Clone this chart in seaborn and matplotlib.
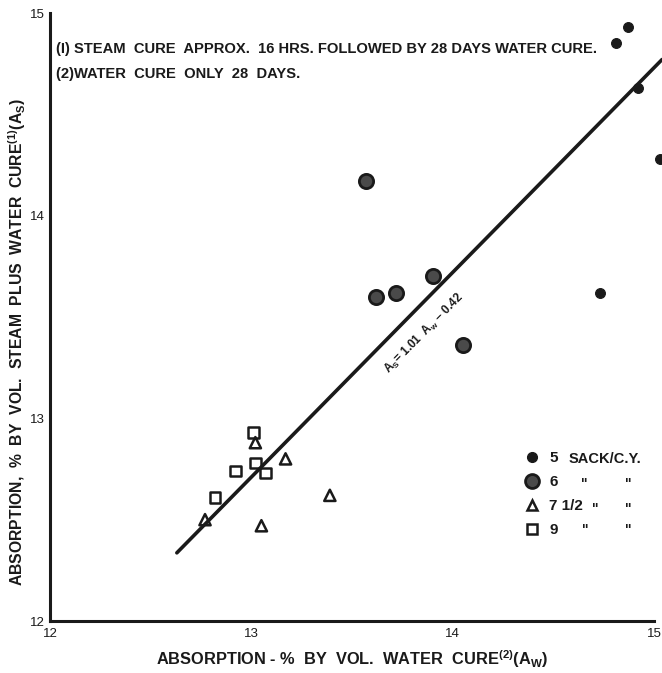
import matplotlib
matplotlib.use("Agg")
import matplotlib.pyplot as plt
import seaborn as sns
import numpy as np
import pandas as pd
from matplotlib.lines import Line2D

# ---- data ----
sack5_x = [14.87, 14.81, 14.92, 15.03, 14.73]
sack5_y = [14.93, 14.85, 14.63, 14.28, 13.62]
sack6_x = [13.57, 13.62, 13.72, 13.90, 14.05]
sack6_y = [14.17, 13.60, 13.62, 13.70, 13.36]
sack75_x = [12.77, 13.02, 13.05, 13.17, 13.39]
sack75_y = [12.50, 12.88, 12.47, 12.80, 12.62]
sack9_x = [12.82, 12.92, 13.01, 13.02, 13.07]
sack9_y = [12.61, 12.74, 12.93, 12.78, 12.73]
fit_slope = 1.01
fit_intercept = -0.42
fit_x = [12.63, 15.04]
legend_labels = ["5", "6", "7 1/2", "9"]
ticks = [12, 13, 14, 15]
note1 = "(I) STEAM  CURE  APPROX.  16 HRS. FOLLOWED BY 28 DAYS WATER CURE."
note2 = "(2)WATER  CURE  ONLY  28  DAYS."

sns.set_style("white")
FONT = ["Liberation Sans", "DejaVu Sans"]
plt.rcParams["font.family"] = FONT
plt.rcParams["mathtext.fontset"] = "custom"
plt.rcParams["mathtext.rm"] = "Liberation Sans:bold"
plt.rcParams["mathtext.it"] = "Liberation Sans:bold"
plt.rcParams["mathtext.bf"] = "Liberation Sans:bold"

fig = plt.figure(figsize=(6.62, 6.73), dpi=100)
ax = fig.add_axes([50 / 662, 1 - 621 / 673, 604 / 662, 608 / 673])

ink = "#1a1a1a"

# fit line
fx = np.array(fit_x)
fy = fit_slope * fx + fit_intercept
sns.lineplot(x=fx, y=fy, ax=ax, color=ink, lw=2.6, clip_on=False)

sns.scatterplot(x=sack5_x, y=sack5_y, ax=ax, marker="o", s=50, color=ink,
                edgecolor=ink, linewidth=0.8, clip_on=False, zorder=3)
sns.scatterplot(x=sack6_x, y=sack6_y, ax=ax, marker="o", s=105, color="#4a4a4a",
                edgecolor=ink, linewidth=2.0, clip_on=False, zorder=3)
sns.scatterplot(x=sack75_x, y=sack75_y, ax=ax, marker="^", s=65, facecolor="none",
                edgecolor=ink, linewidth=1.8, zorder=3)
sns.scatterplot(x=sack9_x, y=sack9_y, ax=ax, marker="s", s=60, facecolor="none",
                edgecolor=ink, linewidth=1.8, zorder=3)

ax.set_xlim(12, 15)
ax.set_ylim(12, 15)
ax.set_xticks(ticks)
ax.set_yticks(ticks)
ax.set_xticklabels([str(t) for t in ticks])
ax.set_yticklabels([str(t) for t in ticks])
ax.tick_params(direction="in", length=8, width=1.6, colors=ink, labelsize=9.5, pad=5)
ax.tick_params(axis="y", pad=4)
for s in ["top", "right"]:
    ax.spines[s].set_visible(False)
for s in ["left", "bottom"]:
    ax.spines[s].set_linewidth(2.2)
    ax.spines[s].set_color(ink)

ax.set_xlabel(r"ABSORPTION - %  BY  VOL.  WATER  CURE$^{(2)}$(A$_{W}$)",
              fontsize=11.8, fontweight="bold", color=ink, labelpad=6)
ax.set_ylabel(r"ABSORPTION,  %  BY  VOL.  STEAM  PLUS  WATER  CURE$^{(1)}$(A$_{S}$)",
              fontsize=11.3, fontweight="bold", color=ink)
ax.yaxis.label.set_va("center")
ax.yaxis.set_label_coords((17 - 50) / 604, (621 - 342) / 608)

ax.text(0.01, 0.94, note1, transform=ax.transAxes, fontsize=10.6,
        fontweight="bold", color=ink, ha="left", va="center")
ax.text(0.01, 0.9, note2, transform=ax.transAxes, fontsize=10.6,
        fontweight="bold", color=ink, ha="left", va="center")

ax.text(13.86, 13.42, r"A$_{S}$= 1.01  A$_{w}$ − 0.42", fontsize=8.5,
        fontweight="bold", color=ink, rotation=45.4, rotation_mode="anchor",
        ha="center", va="center")

# legend
handles = [
    Line2D([], [], ls="none", marker="o", ms=7, mfc=ink, mec=ink),
    Line2D([], [], ls="none", marker="o", ms=10, mfc="#4a4a4a", mec=ink, mew=2),
    Line2D([], [], ls="none", marker="^", ms=7.5, mfc="none", mec=ink, mew=1.8),
    Line2D([], [], ls="none", marker="s", ms=7.5, mfc="none", mec=ink, mew=1.8),
]
leg = ax.legend(handles, legend_labels, loc="upper left",
                bbox_to_anchor=(0.763, 0.302), frameon=False,
                handlelength=1.0, handletextpad=0.6, labelspacing=0.65,
                prop={"family": FONT, "weight": "bold", "size": 11})
for t in leg.get_texts():
    t.set_color(ink)
ax.text(0.859, 0.266, "SACK/C.Y.", transform=ax.transAxes, fontsize=10.5,
        fontweight="bold", color=ink, ha="left", va="center")
quote_rows = [(0.226, 0.884), (0.185, 0.903), (0.150, 0.887)]
for yy, xq in quote_rows:
    ax.text(xq, yy, "\"", transform=ax.transAxes, fontsize=10,
            fontweight="bold", color=ink, ha="center", va="center")
    ax.text(0.957, yy, "\"", transform=ax.transAxes, fontsize=10,
            fontweight="bold", color=ink, ha="center", va="center")

fig.savefig("out.png", dpi=100, facecolor="white")
